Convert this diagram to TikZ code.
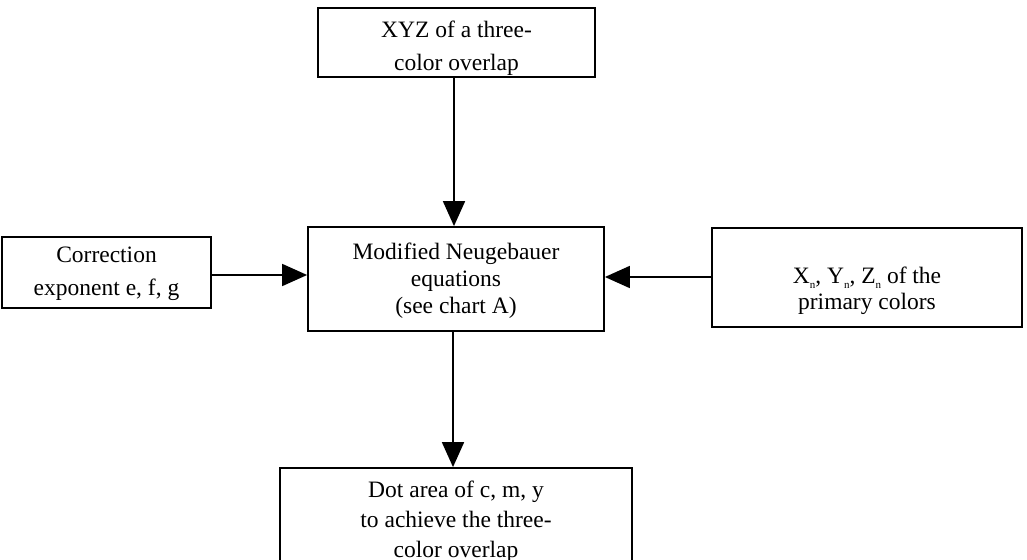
\documentclass[tikz,border=0pt]{standalone}
\usepackage{fontspec}
\setmainfont{Liberation Serif}
\usetikzlibrary{arrows.meta}
\newcommand{\subn}{\raisebox{-5.2pt}{\fontsize{11}{11}\selectfont n}}
\begin{document}
\begin{tikzpicture}[x=1pt,y=-1pt,
  box/.style={draw, line width=1.8pt, inner sep=0pt},
  txt/.style={align=center, inner sep=0pt, font=\fontsize{23.5}{#1}\selectfont},
  txt/.default=33,
  arr/.style={line width=1.8pt, -{Triangle[length=25pt,width=22pt]}}]
  \useasboundingbox (0,0) rectangle (1027,559);
  \clip (0,0) rectangle (1027,559);

  % boxes
  \node[box, minimum width=277pt, minimum height=69pt]  (top)   at (456.5,42.5) {};
  \node[box, minimum width=209pt, minimum height=71pt]  (left)  at (106.5,272.5) {};
  \node[box, minimum width=296pt, minimum height=104pt] (mid)   at (456,279) {};
  \node[box, minimum width=310pt, minimum height=99pt]  (right) at (867,277.5) {};
  \node[box, minimum width=352pt, minimum height=112pt] (bot)   at (456,524) {};

  % labels
  \node[txt=33] (topT)   at (456.5,48)  {XYZ of a three-\\color overlap};
  \node[txt=33] (leftT)  at (106.5,274) {Correction\\exponent e, f, g};
  \node[txt=27] (midT)   at (456,280.5) {Modified Neugebauer\\equations\\(see chart A)};
  \node[txt=26] (rightT) at (867,290.5) {X\subn, Y\subn, Z\subn{} of the\\primary colors};
  \node[txt=30] (botT)   at (456,521.5) {Dot area of c, m, y\\to achieve the three-\\color overlap};

  % connector guides
  \coordinate (vin)  at (454,0);
  \coordinate (vout) at (453,0);
  \coordinate (hl)   at (0,275);
  \coordinate (hr)   at (0,277);

  % connectors
  \draw[arr] (top.south -| vin) -- (mid.north -| vin);
  \draw[arr] (left.east |- hl) -- (mid.west |- hl);
  \draw[arr] (right.west |- hr) -- (mid.east |- hr);
  \draw[arr] (mid.south -| vout) -- (bot.north -| vout);
\end{tikzpicture}
\end{document}
